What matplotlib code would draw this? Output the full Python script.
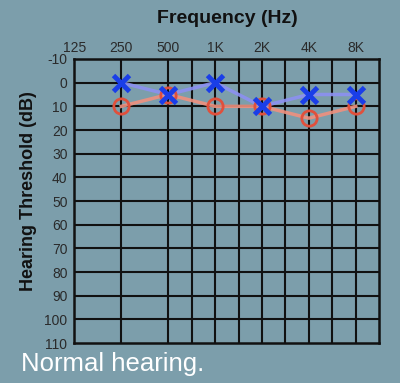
import matplotlib
matplotlib.use("Agg")
import matplotlib.pyplot as plt

# Data
freq_labels = ["125", "250", "500", "1K", "2K", "4K", "8K"]
tested_freqs = ["250", "500", "1K", "2K", "4K", "8K"]
left_ear_db = [0, 5, 0, 10, 5, 5]      # blue X
right_ear_db = [10, 5, 10, 10, 15, 10]  # red O
db_ticks = [-10, 0, 10, 20, 30, 40, 50, 60, 70, 80, 90, 100, 110]

bg = "#7c9eab"
plt.rcParams['font.family'] = ['Liberation Sans', 'DejaVu Sans']

fig = plt.figure(figsize=(4.0, 3.83), dpi=100, facecolor=bg)
ax = fig.add_axes([0.186, 0.104, 0.762, 0.742], facecolor=bg)

pos = {lab: i for i, lab in enumerate(freq_labels)}
xs = [pos[f] for f in tested_freqs]

ax.set_xlim(0, 6.5)
ax.set_ylim(110, -10)

# grid lines
vlines = [1, 2, 2.5, 3, 3.5, 4, 4.5, 5, 5.5, 6]
for v in vlines:
    ax.axvline(v, color="#111111", lw=1.5, zorder=1)
for d in db_ticks[1:-1]:
    ax.axhline(d, color="#111111", lw=1.5, zorder=1)
for s in ax.spines.values():
    s.set_color("#111111")
    s.set_linewidth(1.8)

ax.plot(xs, right_ear_db, color="#f0907e", lw=2.5, alpha=0.9, zorder=2)
ax.plot(xs, left_ear_db, color="#8c90f2", lw=2.5, alpha=0.9, zorder=2)
ax.plot(xs, right_ear_db, linestyle="none", marker="o", ms=11, mfc="none",
        mec="#e0503c", mew=2, zorder=3)
ax.plot(xs, left_ear_db, linestyle="none", marker="x", ms=12, mec="#1a3ee8",
        mew=3.5, zorder=4)

ax.xaxis.tick_top()
ax.set_xticks(range(len(freq_labels)))
ax.set_xticklabels(freq_labels)
ax.set_yticks(db_ticks)
ax.set_yticklabels([str(d) for d in db_ticks])
ax.tick_params(axis="both", length=0, labelsize=10, colors="#2a2a2a")
ax.tick_params(axis="x", pad=3)
ax.tick_params(axis="y", pad=5)
ax.get_xticklabels()[0].set_x(0.15)

fig.text(0.5675, 0.953, "Frequency (Hz)", ha="center", va="center",
         fontsize=14, fontweight="bold", color="#111111")
fig.text(0.0725, 0.50, "Hearing Threshold (dB)", ha="center", va="center",
         rotation=90, fontsize=13, fontweight="bold", color="#111111")
fig.text(0.052, 0.031, "Normal hearing.", ha="left", va="baseline",
         fontsize=18.5, color="white")

fig.savefig("out.png", dpi=100, facecolor=bg)
